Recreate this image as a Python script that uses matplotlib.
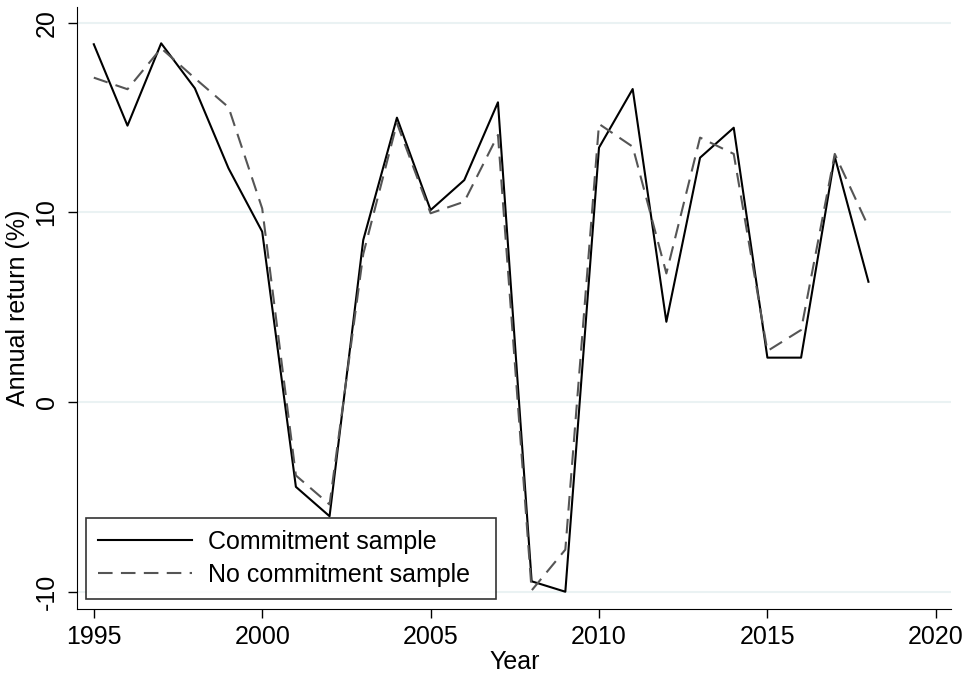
import matplotlib
matplotlib.use("Agg")
import matplotlib.pyplot as plt

# Data
years = [1995, 1996, 1997, 1998, 1999, 2000, 2001, 2002, 2003, 2004, 2005, 2006,
         2007, 2008, 2009, 2010, 2011, 2012, 2013, 2014, 2015, 2016, 2017, 2018]
commitment = [18.86, 14.57, 18.91, 16.54, 12.32, 8.98, -4.47, -6.02, 8.54, 14.99, 10.12, 11.70,
              15.80, -9.45, -10.0, 13.41, 16.50, 4.23, 12.88, 14.46, 2.34, 2.34, 12.93, 6.34]
no_commitment = [17.10, 16.49, 18.65, 17.07, 15.54, 10.2, -3.87, -5.40, 7.8, 14.7, 9.95, 10.56,
                 14.08, -9.93, -7.78, 14.66, 13.46, 6.78, 13.94, 13.08, 2.69, 3.8, 13.08, 9.24]
xticks = [1995, 2000, 2005, 2010, 2015, 2020]
yticks = [-10, 0, 10, 20]

plt.rcParams['font.family'] = ['Liberation Sans', 'DejaVu Sans']

fig = plt.figure(figsize=(9.68, 6.73), dpi=100)
# axes box placed to match the reference pixel layout
ax = fig.add_axes([77.3 / 968, 1 - 609 / 673, (951.3 - 77.3) / 968, (609 - 6.7) / 673])

for y in yticks:
    ax.axhline(y, color="#EAF2F3", lw=1.5, zorder=0)

ax.plot(years, commitment, color="black", lw=1.5, label="Commitment sample")
ax.plot(years, no_commitment, color="#555555", lw=1.5, dashes=(7, 4), label="No commitment sample")

ax.set_xlim(1994.51, 2020.46)
ax.set_ylim(-10.91, 20.84)
ax.set_xticks(xticks)
ax.set_yticks(yticks)
ax.set_yticklabels([str(t) for t in yticks], rotation=90, va="center")
ax.tick_params(labelsize=18, length=6.5, width=1)
ax.tick_params(axis="x", pad=5)
ax.tick_params(axis="y", pad=7)
for s in ["top", "right"]:
    ax.spines[s].set_visible(False)
ax.set_xlabel("Year", fontsize=18, labelpad=1)
ax.set_ylabel("Annual return (%)", fontsize=18, labelpad=3)

# legend box stretched to the reference width (mode="expand")
leg = ax.legend(loc="lower left", bbox_to_anchor=(0.0096, 0.016, 0.469, 0.2), mode="expand",
                borderaxespad=0, fontsize=18, frameon=True, fancybox=False, edgecolor="black",
                handlelength=3.76, handletextpad=0.63, borderpad=0.5, labelspacing=0.35)
leg.get_frame().set_linewidth(1.2)

fig.savefig("out.png", dpi=100)
